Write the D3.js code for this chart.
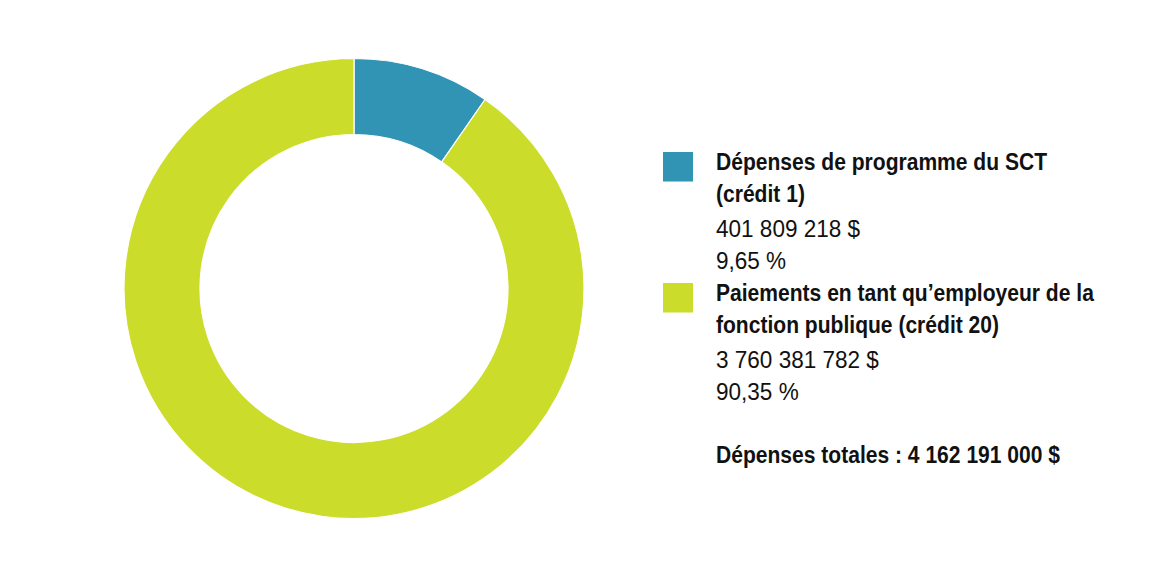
<!DOCTYPE html>
<html>
<head>
<meta charset="utf-8">
<script src="https://cdn.jsdelivr.net/npm/d3@7"></script>
<style>
  body { margin: 0; background: #fff; }
  text { font-family: "Liberation Sans", Arial, sans-serif; fill: #111; }
</style>
</head>
<body>
<svg id="chart" width="1170" height="579"></svg>
<script>
// data
const labels = [
  ["Dépenses de programme du SCT", "(crédit 1)"],
  ["Paiements en tant qu\u2019employeur de la", "fonction publique (crédit 20)"]
];
const amounts = ["401 809 218 $", "3 760 381 782 $"];
const percents = [9.65, 90.35];
const colors = ["#3194b4", "#cbdc2a"];
const totalLabel = "Dépenses totales : 4 162 191 000 $";

const svg = d3.select("#chart");

// donut
const cx = 354, cy = 288.5;
const pie = d3.pie().sort(null).value(d => d);
const arc = d3.arc().innerRadius(154).outerRadius(230);

svg.append("g")
    .attr("transform", `translate(${cx},${cy})`)
  .selectAll("path")
  .data(pie(percents))
  .enter().append("path")
    .attr("d", arc)
    .attr("fill", (d, i) => colors[i])
    .attr("stroke", "#fff")
    .attr("stroke-width", 1.2);

// legend
const fmt = v => d3.format(".2f")(v).replace(".", ",") + " %";
const legendTops = [152, 283];
const legend = svg.append("g");
// narrow look: squeeze Liberation Sans horizontally
const bold = legend.append("g").attr("transform", "translate(716,0) scale(0.86,1)");
const reg = legend.append("g").attr("transform", "translate(716,0) scale(0.92,1)");

labels.forEach((lines, i) => {
  const y0 = legendTops[i];
  legend.append("rect")
      .attr("x", 663).attr("y", y0)
      .attr("width", 30).attr("height", 29.5)
      .attr("fill", colors[i]);

  lines.forEach((t, j) => {
    bold.append("text")
        .attr("x", 0).attr("y", y0 + 18 + j * 32)
        .attr("font-size", 24.5).attr("font-weight", "bold")
        .text(t);
  });
  reg.append("text")
      .attr("x", 0).attr("y", y0 + 85)
      .attr("font-size", 24.5)
      .text(amounts[i]);
  reg.append("text")
      .attr("x", 0).attr("y", y0 + 117)
      .attr("font-size", 24.5)
      .text(fmt(percents[i]));
});

bold.append("text")
    .attr("x", 0).attr("y", 463)
    .attr("font-size", 24.5).attr("font-weight", "bold")
    .text(totalLabel);
</script>
</body>
</html>
